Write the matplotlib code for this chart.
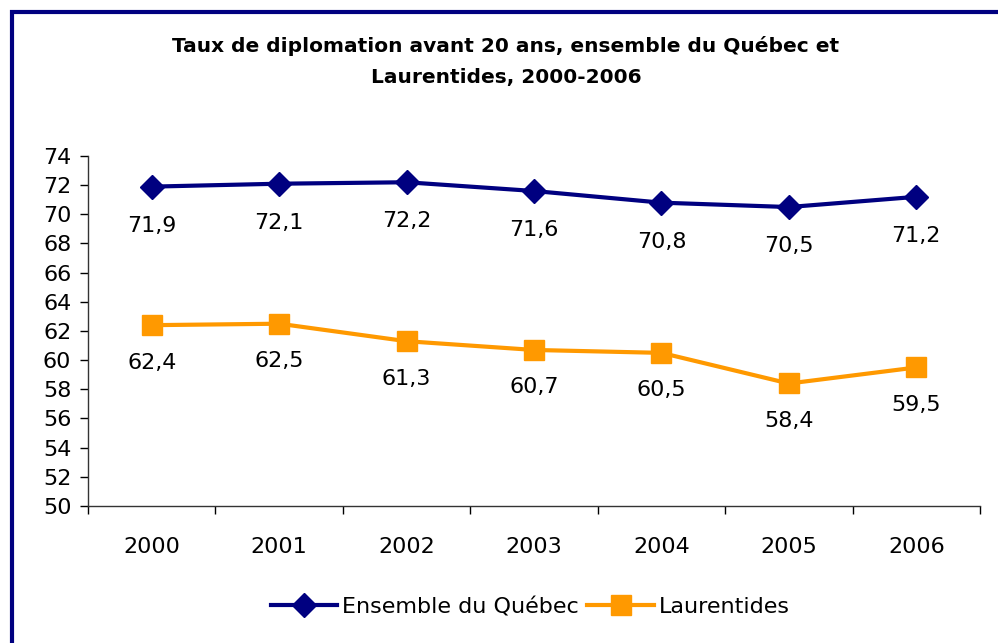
import matplotlib
matplotlib.use("Agg")
import matplotlib.pyplot as plt
from matplotlib.patches import Rectangle
from matplotlib.ticker import FixedLocator, NullFormatter

plt.rcParams['font.family'] = ['DejaVu Sans']

years = ["2000", "2001", "2002", "2003", "2004", "2005", "2006"]
quebec = [71.9, 72.1, 72.2, 71.6, 70.8, 70.5, 71.2]
laurentides = [62.4, 62.5, 61.3, 60.7, 60.5, 58.4, 59.5]
quebec_labels = ["71,9", "72,1", "72,2", "71,6", "70,8", "70,5", "71,2"]
laur_labels = ["62,4", "62,5", "61,3", "60,7", "60,5", "58,4", "59,5"]

W, H = 998, 643
fig = plt.figure(figsize=(W / 100, H / 100), dpi=100)

# figure border (navy), bottom partially cut off
fig.patches.append(Rectangle((11.5 / W, 1 - 644 / H), (W + 20) / W, (644 - 11.5) / H,
                             transform=fig.transFigure, fill=False,
                             edgecolor='#000080', linewidth=3, zorder=0))

ax = fig.add_axes([88 / W, 1 - 506 / H, (980 - 88) / W, (506 - 156) / H])
x = list(range(len(years)))
navy = '#000080'
orange = '#FF9900'
ax.plot(x, quebec, color=navy, linewidth=3, marker='D', markersize=12,
        label='Ensemble du Québec', clip_on=False)
ax.plot(x, laurentides, color=orange, linewidth=3, marker='s', markersize=14,
        label='Laurentides', clip_on=False)

for i, (v, lab) in enumerate(zip(quebec, quebec_labels)):
    ax.annotate(lab, (i, v), xytext=(0, -28), textcoords='offset points',
                ha='center', va='center', fontsize=16)
for i, (v, lab) in enumerate(zip(laurentides, laur_labels)):
    ax.annotate(lab, (i, v), xytext=(0, -27), textcoords='offset points',
                ha='center', va='center', fontsize=16)

ax.set_xlim(-0.5, len(years) - 0.5)
ax.set_ylim(50, 74)
ax.set_yticks(range(50, 75, 2))
ax.tick_params(axis='y', labelsize=16, length=6, width=1, direction='out', pad=6)
ax.set_xticks(x)
ax.set_xticklabels(years)
ax.tick_params(axis='x', which='major', length=0, labelsize=16, pad=22)
ax.xaxis.set_minor_locator(FixedLocator([i - 0.5 for i in range(len(years) + 1)]))
ax.xaxis.set_minor_formatter(NullFormatter())
ax.tick_params(axis='x', which='minor', length=6, width=1, direction='out')

for s in ['top', 'right']:
    ax.spines[s].set_visible(False)
for s in ['left', 'bottom']:
    ax.spines[s].set_color('#333333')
    ax.spines[s].set_linewidth(1)
ax.patch.set_alpha(0)

fig.text(0.507, 1 - 61 / H, "Taux de diplomation avant 20 ans, ensemble du Québec et\nLaurentides, 2000-2006",
         ha='center', va='center', fontsize=14.5, fontweight='bold', linespacing=1.8)

fig.legend(loc='center', bbox_to_anchor=(530 / W, 1 - 607 / H), ncol=2, frameon=False,
           fontsize=16, handlelength=3.0, columnspacing=0.4, handletextpad=0.2)

fig.savefig('out.png', dpi=100)
